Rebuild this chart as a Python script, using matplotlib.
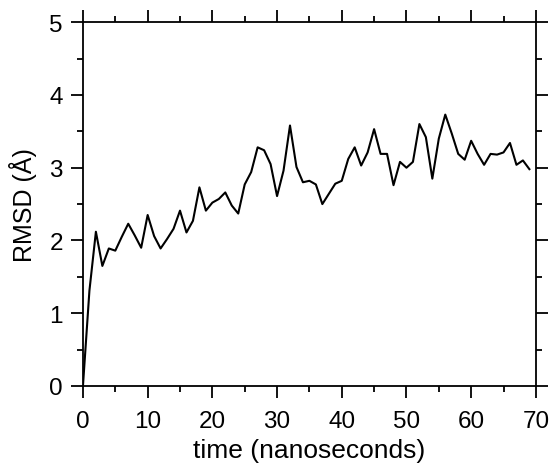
import numpy as np
import matplotlib
matplotlib.use("Agg")
import matplotlib.pyplot as plt
from matplotlib.ticker import MultipleLocator

# RMSD trace, one value per nanosecond
time_ns = np.arange(0, 70)
rmsd = [
    0.00, 1.31, 2.12, 1.65, 1.89, 1.86, 2.05, 2.23, 2.07, 1.90,
    2.35, 2.06, 1.89, 2.02, 2.16, 2.41, 2.11, 2.27, 2.73, 2.41,
    2.52, 2.57, 2.66, 2.48, 2.37, 2.77, 2.94, 3.28, 3.24, 3.05,
    2.61, 2.96, 3.58, 3.01, 2.80, 2.82, 2.77, 2.50, 2.64, 2.78,
    2.82, 3.12, 3.28, 3.03, 3.21, 3.53, 3.19, 3.19, 2.76, 3.08,
    3.00, 3.08, 3.60, 3.42, 2.85, 3.40, 3.73, 3.47, 3.19, 3.11,
    3.37, 3.19, 3.04, 3.19, 3.18, 3.21, 3.34, 3.04, 3.10, 2.98,
]

plt.rcParams["font.family"] = ["Liberation Sans", "DejaVu Sans"]

fig = plt.figure(figsize=(5.53, 4.64), dpi=100)
ax = fig.add_axes([0.150, 0.166, 0.819, 0.784])

ax.plot(time_ns, rmsd, color="black", linewidth=1.5)

ax.set_xlim(0, 70)
ax.set_ylim(0, 5)
ax.xaxis.set_major_locator(MultipleLocator(10))
ax.xaxis.set_minor_locator(MultipleLocator(5))
ax.yaxis.set_major_locator(MultipleLocator(1))
ax.yaxis.set_minor_locator(MultipleLocator(0.5))

for s in ax.spines.values():
    s.set_linewidth(1.3)

ax.tick_params(which="both", direction="out", top=True, right=True,
               width=1.3, labelsize=17.5)
ax.tick_params(which="major", length=8.5)
ax.tick_params(axis="x", which="major", pad=9)
ax.tick_params(axis="y", which="major", pad=6)
ax.tick_params(which="minor", length=4.3)

ax.set_xlabel("time (nanoseconds)", fontsize=19, labelpad=4)
ax.set_ylabel("RMSD (Å)", fontsize=18, labelpad=9)

fig.savefig("out.png", dpi=100)
